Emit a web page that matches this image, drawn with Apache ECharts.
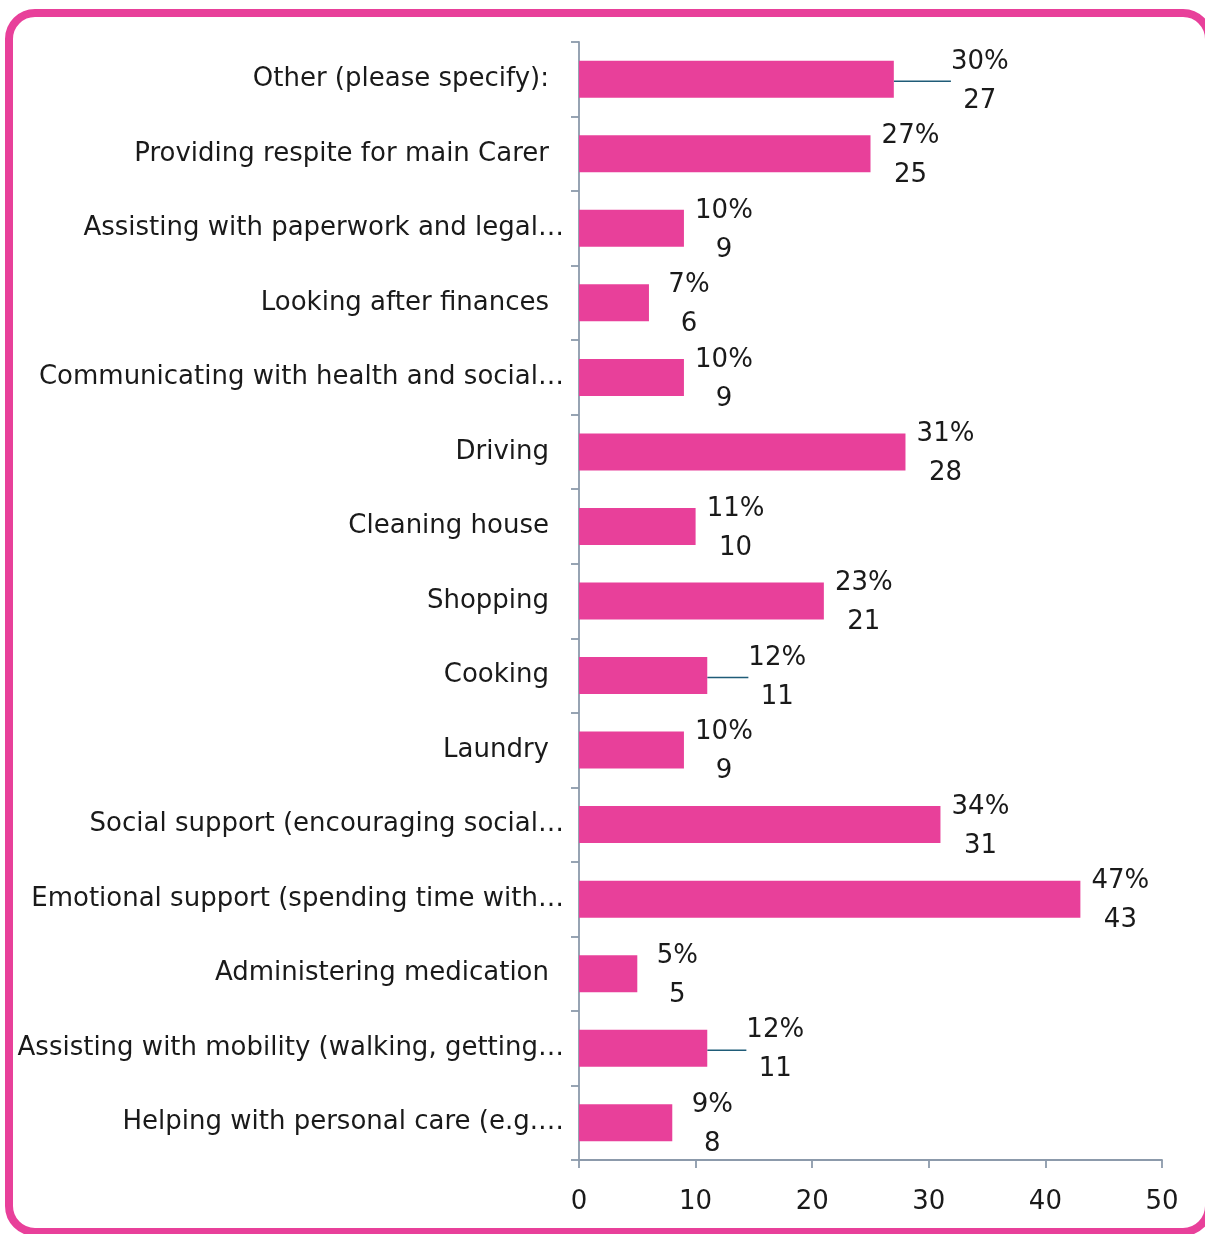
<!DOCTYPE html>
<html>
<head>
<meta charset="utf-8">
<script src="https://cdn.jsdelivr.net/npm/echarts@6/dist/echarts.min.js"></script>
<style>
  html, body { margin: 0; padding: 0; background: #ffffff; }
  #chart { width: 1205px; height: 1234px; }
</style>
</head>
<body>
<div id="chart"></div>
<script>
// Tasks carried out for the person being cared for (top to bottom)
const categories = [
  'Other (please specify):',
  'Providing respite for main Carer',
  'Assisting with paperwork and legal…',
  'Looking after finances',
  'Communicating with health and social…',
  'Driving',
  'Cleaning house',
  'Shopping',
  'Cooking',
  'Laundry',
  'Social support (encouraging social…',
  'Emotional support (spending time with…',
  'Administering medication',
  'Assisting with mobility (walking, getting…',
  'Helping with personal care (e.g.…'
];
// Number of respondents per task
const counts = [27, 25, 9, 6, 9, 28, 10, 21, 11, 9, 31, 43, 5, 11, 8];
// Share of respondents per task (%)
const percents = [30, 27, 10, 7, 10, 31, 11, 23, 12, 10, 34, 47, 5, 12, 9];
// Value axis ticks
const xTicks = [0, 10, 20, 30, 40, 50];

// Labels pushed further out, joined back to their bar by a guide line
const movedLabels = { 0: 46, 8: 30, 13: 28 };

const PINK = '#E8409A';
const AXIS = '#8C9AAB';
const TEXT = '#1a1a1a';
const FONT = 'DejaVu Sans';
const FS = 26;

const barData = counts.map(function (v, i) {
  return movedLabels[i] ? { value: v, labelLine: { show: true } } : { value: v };
});

const chart = echarts.init(document.getElementById('chart'));

chart.setOption({
  animation: false,
  backgroundColor: '#ffffff',
  graphic: [{
    type: 'rect',
    shape: { x: 9, y: 13, width: 1200, height: 1219, r: 26 },
    style: { fill: 'none', stroke: PINK, lineWidth: 8 },
    z: 100
  }],
  grid: { left: 579, right: 43, top: 42, bottom: 74 },
  xAxis: {
    type: 'value',
    min: xTicks[0],
    max: xTicks[xTicks.length - 1],
    interval: 10,
    splitLine: { show: false },
    axisLine: { show: true, lineStyle: { color: AXIS, width: 1.8 } },
    axisTick: { show: true, length: 8, lineStyle: { color: AXIS, width: 1.8 } },
    axisLabel: { color: TEXT, fontFamily: FONT, fontSize: FS, margin: 29 }
  },
  yAxis: {
    type: 'category',
    inverse: true,
    data: categories,
    axisLine: { show: true, lineStyle: { color: AXIS, width: 1.8 } },
    axisTick: { show: true, length: 8, lineStyle: { color: AXIS, width: 1.8 } },
    axisLabel: {
      color: TEXT,
      fontFamily: FONT,
      fontSize: FS,
      margin: 15,
      formatter: function (v) {
        return v.endsWith('…') ? '{e|' + v + '}' : '{n|' + v + '}';
      },
      rich: {
        n: { fontFamily: FONT, fontSize: FS, color: TEXT, padding: [0, 15, 0, 0] },
        e: { fontFamily: FONT, fontSize: FS, color: TEXT }
      }
    }
  },
  series: [{
    type: 'bar',
    data: barData,
    barWidth: 37,
    itemStyle: { color: PINK },
    label: {
      show: true,
      position: 'right',
      distance: 12,
      align: 'center',
      color: TEXT,
      fontFamily: FONT,
      fontSize: FS,
      lineHeight: 39,
      formatter: function (p) {
        return percents[p.dataIndex] + '%\n' + counts[p.dataIndex];
      }
    },
    labelLine: {
      show: false,
      lineStyle: { color: '#1F5C78', width: 1.5 }
    },
    labelLayout: function (params) {
      const extra = movedLabels[params.dataIndex] || 0;
      return { dx: 28 + extra, dy: 2 };
    }
  }]
});
</script>
</body>
</html>
